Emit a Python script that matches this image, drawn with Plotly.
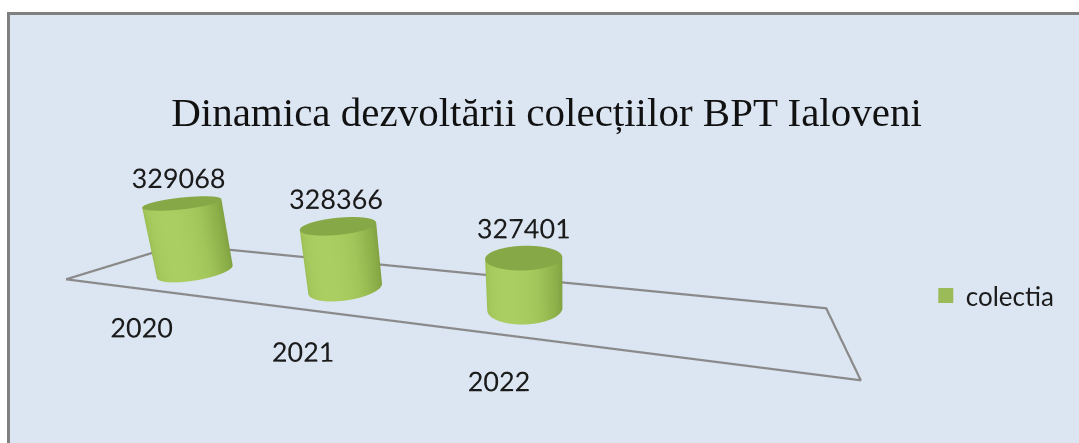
import numpy as np
import plotly.graph_objects as go

# ---------------- data ----------------
years = ["2020", "2021", "2022"]
values = [329068, 328366, 327401]
series_name = "colectia"
title_text = "Dinamica dezvoltării colecțiilor BPT Ialoveni"

# ------------- view / style parameters (not data) -------------
Z_MIN = 324400        # value-axis minimum = floor level
K = 11670.0           # value units per category unit (vertical scale)
R = 0.18              # cylinder radius (category units)
FLOOR_X = (-0.57, 3.40)
FLOOR_Y = (-0.29, 0.37)
XR = (-0.65, 3.55)    # scene ranges in category units
YR = (-0.45, 0.45)
ZR = (-0.3, 0.7)
S = 0.5               # model units per category unit
CAM_POS = np.array([2.819, -2.247, 1.061])      # camera position (category units)
CAM_DIR = np.array([-0.2494, 0.9339, -0.2558])  # viewing direction
LABEL_Y, LABEL_Z = -0.35, -0.19                # category label placement
VALUE_OFFSET = 0.14                            # value label height above cylinder top

SIDE_SCALE = [[0.0, "#6E8E33"], [0.27, "#789A3A"], [0.5, "#87A945"],
              [0.71, "#93B64E"], [0.86, "#A2C55A"], [1.0, "#AACE61"]]
TOP = "#86A846"
FLOOR_COL = "#8A8A8A"
TXT = "#1b1b1b"


def zval(u):
    return Z_MIN + u * K


fig = go.Figure()
theta = np.linspace(-np.pi, np.pi, 121)
flat = dict(ambient=1.0, diffuse=0.0, specular=0.0, roughness=1.0, fresnel=0.0)
for i, v in enumerate(values):
    cx = float(i)
    face = np.arctan2(CAM_POS[1], CAM_POS[0] - cx)
    hl = face - np.deg2rad(25)
    shade = np.cos(theta - hl)
    X = np.vstack([cx + R * np.cos(theta)] * 2)
    Y = np.vstack([R * np.sin(theta)] * 2)
    Z = np.vstack([np.full_like(theta, Z_MIN), np.full_like(theta, v)])
    fig.add_trace(go.Surface(
        x=X, y=Y, z=Z, surfacecolor=np.vstack([shade, shade]), cmin=-1, cmax=1,
        colorscale=SIDE_SCALE, showscale=False, hoverinfo="skip",
        lighting=flat, showlegend=False))
    rr = np.array([0.0, R])
    Xc = cx + rr[:, None] * np.cos(theta)[None, :]
    Yc = rr[:, None] * np.sin(theta)[None, :]
    Zc = np.full_like(Xc, v, dtype=float)
    fig.add_trace(go.Surface(
        x=Xc, y=Yc, z=Zc, surfacecolor=np.zeros_like(Zc),
        colorscale=[[0, TOP], [1, TOP]], showscale=False, hoverinfo="skip",
        lighting=flat, showlegend=False))

# floor outline
fx = [FLOOR_X[0], FLOOR_X[1], FLOOR_X[1], FLOOR_X[0], FLOOR_X[0]]
fy = [FLOOR_Y[0], FLOOR_Y[0], FLOOR_Y[1], FLOOR_Y[1], FLOOR_Y[0]]
fig.add_trace(go.Scatter3d(x=fx, y=fy, z=[Z_MIN] * 5, mode="lines",
                           line=dict(color=FLOOR_COL, width=4.5),
                           hoverinfo="skip", showlegend=False))

# value labels
fig.add_trace(go.Scatter3d(
    x=list(range(len(values))), y=[0.0] * len(values),
    z=[v + VALUE_OFFSET * K for v in values], mode="text",
    text=[str(v) for v in values], textposition="middle center",
    textfont=dict(family="Lato", size=27, color=TXT),
    hoverinfo="skip", showlegend=False))

# category labels
fig.add_trace(go.Scatter3d(
    x=list(range(len(years))), y=[LABEL_Y] * len(years),
    z=[zval(LABEL_Z)] * len(years), mode="text", text=years,
    textposition="middle center",
    textfont=dict(family="Lato", size=27, color=TXT),
    hoverinfo="skip", showlegend=False))

# legend entry
fig.add_trace(go.Scatter(x=[None], y=[None], mode="markers", name=series_name,
                         marker=dict(symbol="square", size=15, color="#9BBB59"),
                         showlegend=True))

# camera in plotly model coordinates
mid = np.array([(XR[0] + XR[1]) / 2, (YR[0] + YR[1]) / 2, (ZR[0] + ZR[1]) / 2])
eye = S * (CAM_POS - mid)
tgt = S * (CAM_POS + 3.0 * CAM_DIR / np.linalg.norm(CAM_DIR) - mid)

hidden = dict(visible=False, showbackground=False, showgrid=False, zeroline=False,
              showticklabels=False, title="", showspikes=False)
fig.update_layout(
    width=1079, height=443,
    margin=dict(l=0, r=0, t=0, b=0),
    paper_bgcolor="white", plot_bgcolor="rgba(0,0,0,0)",
    xaxis=dict(visible=False), yaxis=dict(visible=False),
    title=dict(text=title_text, x=0.5065, xanchor="center", y=0.747, yanchor="middle",
               font=dict(family="Liberation Serif", size=41, color="#111")),
    scene=dict(
        domain=dict(x=[0.055, 1.0], y=[0.0, 1.0]),
        xaxis=dict(range=list(XR), **hidden),
        yaxis=dict(range=list(YR), **hidden),
        zaxis=dict(range=[zval(ZR[0]), zval(ZR[1])], **hidden),
        aspectmode="manual",
        aspectratio=dict(x=S * (XR[1] - XR[0]), y=S * (YR[1] - YR[0]), z=S * (ZR[1] - ZR[0])),
        bgcolor="rgba(0,0,0,0)",
        camera=dict(eye=dict(x=eye[0], y=eye[1], z=eye[2]),
                    center=dict(x=tgt[0], y=tgt[1], z=tgt[2]),
                    up=dict(x=0, y=0, z=1), projection=dict(type="perspective")),
    ),
    legend=dict(x=0.858, y=0.333, xanchor="left", yanchor="middle",
                bgcolor="rgba(0,0,0,0)", font=dict(family="Lato", size=26, color=TXT)),
    shapes=[dict(type="rect", xref="paper", yref="paper", x0=8.5 / 1079, x1=1.05,
                 y0=-0.05, y1=1 - 13.5 / 443,
                 fillcolor="#DCE6F2", line=dict(color="#808080", width=3), layer="below")],
)

fig.write_html("out.html", config={"displayModeBar": False},
               post_script="document.body.style.margin='0';")
